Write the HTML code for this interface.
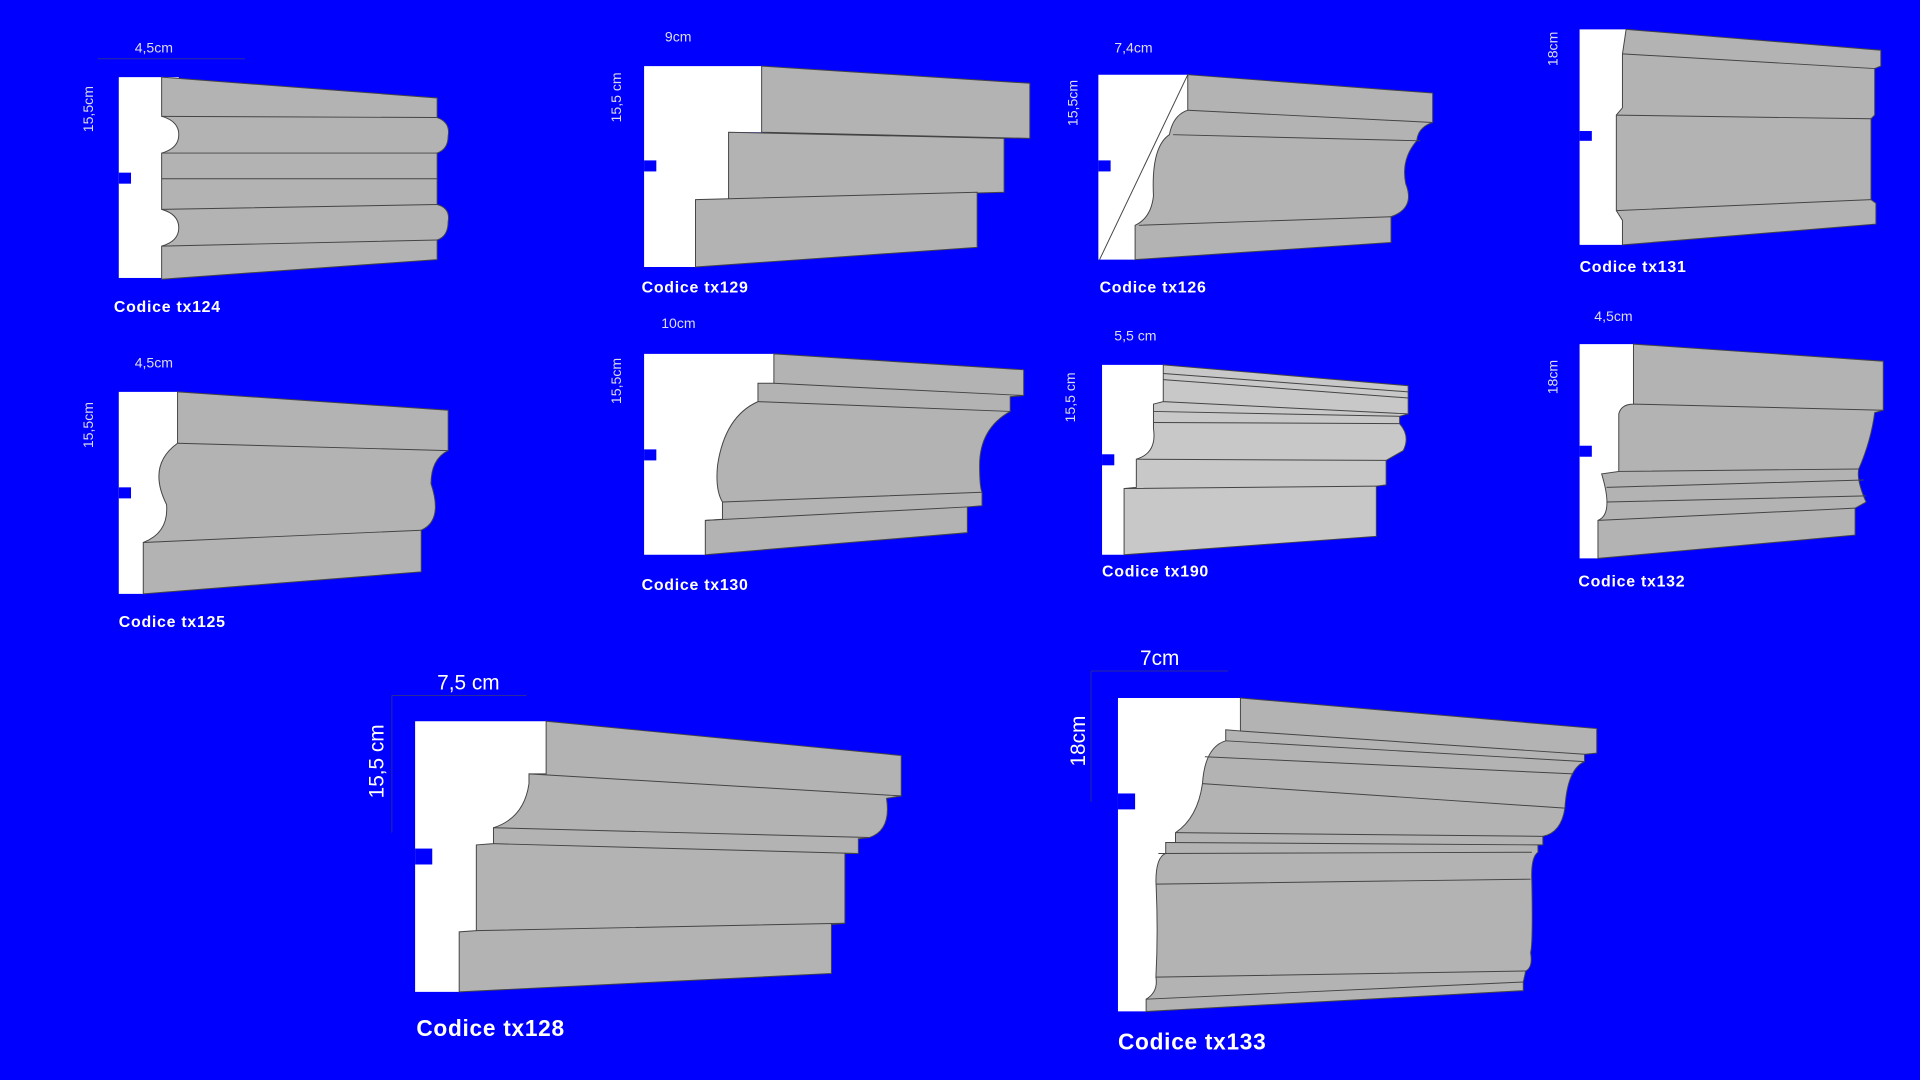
<!DOCTYPE html>
<html><head><meta charset="utf-8"><style>
html,body{margin:0;padding:0;background:#0000ff;width:1920px;height:1080px;overflow:hidden}
svg{display:block}
.w{fill:#fff}
.g{fill:#b3b3b3;stroke:#444;stroke-width:0.8}
.l{fill:#c8c8c8;stroke:#444;stroke-width:0.8}
.n{fill:#0000ff}
.ln{stroke:#444;stroke-width:0.8;fill:none}
.c{font-family:"Liberation Sans",sans-serif;font-weight:bold;fill:#fff;font-size:13px;letter-spacing:0.6px}
.C{font-family:"Liberation Sans",sans-serif;font-weight:bold;fill:#fff;font-size:18.5px;letter-spacing:0.6px}
.d{font-family:"Liberation Sans",sans-serif;fill:#dde;font-size:11.5px}
.D{font-family:"Liberation Sans",sans-serif;fill:#fff;font-size:17px}
.dl{stroke:#2a2a9a;stroke-width:0.8}
</style></head><body>
<svg width="1920" height="1080" viewBox="0 0 1568 882" xmlns="http://www.w3.org/2000/svg">
<!-- tx124 -->
<line class="dl" x1="80" y1="48" x2="200" y2="48"/>
<text class="d" x="110" y="43">4,5cm</text>
<text class="d" transform="translate(76,108) rotate(-90)">15,5cm</text>
<rect class="w" x="97" y="63" width="49" height="164"/><rect class="n" x="97" y="141" width="10" height="9"/>
<path class="g" d="M132,63 L357,80 L357,96 Q368,100 366,111 Q366,122 357,125 L357,167 Q368,170 366,181 Q366,193 357,196 L357,212 L132,228 L132,201 Q146,197 146,186 Q146,175 132,171 L132,125 Q146,121 146,110 Q146,99 132,95 Z"/>
<path class="ln" d="M132,95 L357,96 M132,125 L357,125 M132,146 L357,146 M132,171 L357,167 M132,201 L357,196"/>
<text class="c" x="93" y="255">Codice tx124</text>
<!-- tx129 -->
<text class="d" x="543" y="34">9cm</text>
<text class="d" transform="translate(507,100) rotate(-90)">15,5 cm</text>
<polygon class="w" points="526,54 622,54 622,108 595,108 595,163 568,163 568,218 526,218"/><rect class="n" x="526" y="131" width="10" height="9"/>
<path class="g" d="M622,54 L841,68 L841,113 L622,108 Z"/>
<path class="g" d="M595,108 L820,113 L820,157 L595,163 Z"/>
<path class="g" d="M568,163 L798,157 L798,202 L568,218 Z"/>
<text class="c" x="524" y="239">Codice tx129</text>
<!-- tx126 -->
<text class="d" x="910" y="43">7,4cm</text>
<text class="d" transform="translate(880,103) rotate(-90)">15,5cm</text>
<polygon class="w" points="897,61 970,61 970,209 927,212 897,212"/><rect class="n" x="897" y="131" width="10" height="9"/>
<line class="ln" x1="970" y1="61" x2="898" y2="212"/>
<path class="g" d="M970,61 L1170,76 L1170,100 Q1158,104 1157,115 Q1144,130 1148,150 Q1156,170 1136,177 L1136,198 L927,212 L927,184 Q940,178 942,160 Q940,120 955,110 Q958,94 970,90 Z"/>
<path class="ln" d="M970,90 L1170,100 M958,110 L1160,115 M930,184 L1136,177"/>
<text class="c" x="898" y="239">Codice tx126</text>
<!-- tx131 -->
<text class="d" transform="translate(1272,54) rotate(-90)">18cm</text>
<polygon class="w" points="1290,24 1328,24 1325,200 1290,200"/><rect class="n" x="1290" y="107" width="10" height="8"/>
<path class="g" d="M1328,24 L1536,41 L1536,54 L1531,56 L1531,94 L1528,97 L1528,163 L1532,166 L1532,183 L1325,200 L1325,180 L1320,172 L1320,94 L1325,88 L1325,44 Z"/>
<path class="ln" d="M1325,44 L1531,56 M1320,94 L1528,97 M1320,172 L1528,163"/>
<text class="c" x="1290" y="222">Codice tx131</text>
<!-- tx125 -->
<text class="d" x="110" y="300">4,5cm</text>
<text class="d" transform="translate(76,366) rotate(-90)">15,5cm</text>
<polygon class="w" points="97,320 145,320 145,482.8 117,485 97,485"/><rect class="n" x="97" y="398" width="10" height="9"/>
<path class="g" d="M145,320 L366,335 L366,368 Q352,375 352,395 Q362,425 344,433 L344,467 L117,485 L117,443 Q138,435 136,412 Q120,380 145,362 Z"/>
<path class="ln" d="M145,362 L366,368 M117,443 L344,433"/>
<text class="c" x="97" y="512">Codice tx125</text>
<!-- tx130 -->
<text class="d" x="540" y="268">10cm</text>
<text class="d" transform="translate(507,330) rotate(-90)">15,5cm</text>
<polygon class="w" points="526,289 632,289 632,448.3 576,453 526,453"/><rect class="n" x="526" y="367" width="10" height="9"/>
<path class="g" d="M632,289 L836,302 L836,323 L825,324 L825,336 Q800,350 800,380 Q800,398 802,402 L802,413 L790,414 L790,435 L576,453 L576,425 L590,424 L590,410 Q584,400 586,380 Q592,340 619,328 L619,313 L632,313 Z"/>
<path class="ln" d="M632,313 L836,323 M619,328 L825,336 M590,410 L802,402 M576,425 L790,414"/>
<text class="c" x="524" y="482">Codice tx130</text>
<!-- tx190 -->
<text class="d" x="910" y="278">5,5 cm</text>
<text class="d" transform="translate(878,345) rotate(-90)">15,5 cm</text>
<polygon class="w" points="900,298 950,298 950,450.7 918,453 900,453"/><rect class="n" x="900" y="371" width="10" height="9"/>
<path class="l" d="M950,298 L1150,315 L1150,338 L1143,340 L1143,346 Q1152,356 1146,368 L1132,376 L1132,396 L1124,397 L1124,438 L918,453 L918,399 L928,398 L928,375 Q945,370 942,350 L942,330 L950,328 Z"/>
<path class="ln" d="M950,305 L1150,320 M950,310 L1150,325 M950,328 L1150,338 M942,336 L1143,340 M942,345 L1143,346 M928,375 L1132,376 M918,399 L1124,397"/>
<text class="c" x="900" y="471">Codice tx190</text>
<!-- tx132 -->
<text class="d" x="1302" y="262">4,5cm</text>
<text class="d" transform="translate(1272,322) rotate(-90)">18cm</text>
<polygon class="w" points="1290,281 1334,281 1334,453.4 1305,456 1290,456"/><rect class="n" x="1290" y="364" width="10" height="9"/>
<path class="g" d="M1334,281 L1538,295 L1538,335 L1531,337 Q1528,360 1518,383 Q1516,392 1524,410 L1515,415 L1515,437 L1305,456 L1305,425 Q1318,420 1308,387 L1322,385 L1322,338 Q1324,330 1334,330 Z"/>
<path class="ln" d="M1334,330 L1538,335 M1322,385 L1518,383 M1312,398 L1522,392 M1312,410 L1524,405 M1305,425 L1515,415"/>
<text class="c" x="1289" y="479">Codice tx132</text>
<!-- tx128 -->
<line class="dl" x1="320" y1="568" x2="430" y2="568"/>
<line class="dl" x1="320" y1="568" x2="320" y2="680"/>
<text class="D" x="357" y="563">7,5 cm</text>
<text class="D" transform="translate(313,652) rotate(-90)">15,5 cm</text>
<polygon class="w" points="339,589 446,589 446,806.5 375,810 339,810"/><rect class="n" x="339" y="693" width="14" height="13"/>
<path class="g" d="M446,589 L736,617 L736,650 L724,652 Q728,678 710,684 L701,685 L701,697 L690,697 L690,754 L679,755 L679,795 L375,810 L375,761 L389,760 L389,690 L403,689 L403,676 Q428,668 432,640 L432,632 L446,632 Z"/>
<path class="ln" d="M432,632 L736,650 M403,676 L710,684 M403,689 L701,697 M389,760 L690,754"/>
<text class="C" x="340" y="846">Codice tx128</text>
<!-- tx133 -->
<line class="dl" x1="891" y1="548" x2="1003" y2="548"/>
<line class="dl" x1="891" y1="548" x2="891" y2="655"/>
<text class="D" x="931" y="543">7cm</text>
<text class="D" transform="translate(886,626) rotate(-90)">18cm</text>
<polygon class="w" points="913,570 1013,570 1013,821.7 936,826 913,826"/><rect class="n" x="913" y="648" width="14" height="13"/>
<path class="g" d="M1013,570 L1304,595 L1304,615 L1294,616 L1294,622 Q1280,628 1278,660 Q1275,680 1260,683 L1260,690 L1256,690 L1256,696 Q1250,700 1251,720 Q1252,770 1250,778 Q1252,790 1246,793 L1244,802 L1244,809 L936,826 L936,816 Q946,810 944,798 Q946,760 944,720 Q944,700 952,697 L952,688 L960,688 L960,680 Q978,668 982,640 Q984,610 1001,605 L1001,596 L1013,597 Z"/>
<path class="ln" d="M1013,597 L1294,616 M1001,605 L1294,622 M984,618 L1285,632 M982,640 L1278,660 M960,680 L1260,683 M952,688 L1256,690 M946,697 L1251,696 M944,722 L1250,718 M944,798 L1246,793 M936,816 L1244,802"/>
<text class="C" x="913" y="857">Codice tx133</text>
</svg>
</body></html>
